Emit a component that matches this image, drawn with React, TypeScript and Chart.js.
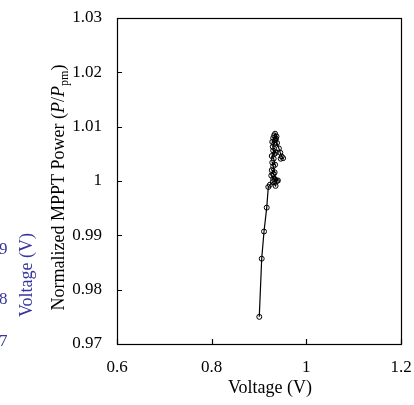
import React, { useEffect, useRef } from "react";
import { Chart, registerables } from "chart.js";

Chart.register(...registerables);

const voltage = [
  0.9006, 0.9057, 0.9106, 0.9163, 0.9197, 0.923, 0.929, 0.935, 0.938, 0.93,
  0.926, 0.934, 0.94, 0.931, 0.927, 0.933, 0.93, 0.928, 0.934, 0.931,
  0.927, 0.933, 0.93, 0.935, 0.929, 0.932, 0.928, 0.934, 0.93, 0.936,
  0.932, 0.934, 0.937, 0.938, 0.942, 0.945, 0.948, 0.951, 0.946,
];
const power = [
  0.975, 0.9857, 0.9907, 0.9951, 0.9989, 0.9993, 0.9998, 0.9991, 1.0, 1.0004,
  1.001, 1.0003, 1.0001, 1.0013, 1.002, 1.0016, 1.0027, 1.0034, 1.003, 1.0041,
  1.0046, 1.005, 1.0056, 1.0052, 1.0063, 1.0068, 1.0072, 1.0075, 1.0079, 1.0078,
  1.0084, 1.0087, 1.0082, 1.007, 1.006, 1.0052, 1.0045, 1.0042, 1.0041,
];
const xTicks = [0.6, 0.8, 1, 1.2];
const yTicks = [0.97, 0.98, 0.99, 1, 1.01, 1.02, 1.03];
const ghostTickLabels = ["9", "8", "7"];

const FONT = "'Liberation Serif', 'Times New Roman', serif";
const fmt = (v: number) => String(+Number(v).toFixed(2));

const decorPlugin = {
  id: "decor",
  afterDraw(chart: any) {
    const ctx = chart.ctx as CanvasRenderingContext2D;
    const { left, right, top, bottom } = chart.chartArea;
    const xs = chart.scales.x;
    const ys = chart.scales.y;
    ctx.save();
    ctx.strokeStyle = "#000";
    ctx.lineWidth = 1.2;
    ctx.strokeRect(Math.round(left) + 0.5, Math.round(top) + 0.5, Math.round(right - left), Math.round(bottom - top));
    ctx.beginPath();
    yTicks.forEach((v) => {
      const p = Math.round(ys.getPixelForValue(v)) + 0.5;
      ctx.moveTo(left, p);
      ctx.lineTo(left + 5, p);
    });
    xTicks.forEach((v) => {
      const p = Math.round(xs.getPixelForValue(v)) + 0.5;
      ctx.moveTo(p, bottom);
      ctx.lineTo(p, bottom - 5);
    });
    ctx.stroke();

    // tick labels
    ctx.fillStyle = "#000";
    ctx.font = `17px ${FONT}`;
    ctx.textAlign = "right";
    ctx.textBaseline = "middle";
    yTicks.forEach((v) => ctx.fillText(fmt(v), left - 15, ys.getPixelForValue(v)));
    ctx.textAlign = "center";
    ctx.textBaseline = "alphabetic";
    xTicks.forEach((v) => ctx.fillText(fmt(v), xs.getPixelForValue(v), bottom + 28));

    // x title
    ctx.font = `18px ${FONT}`;
    ctx.fillText("Voltage (V)", 270, 393);

    // y title with italic and subscript
    const segs = [
      { t: "Normalized MPPT Power (", f: `18px ${FONT}`, dy: 0 },
      { t: "P", f: `italic 18px ${FONT}`, dy: 0 },
      { t: "/", f: `18px ${FONT}`, dy: 0 },
      { t: "P", f: `italic 18px ${FONT}`, dy: 0 },
      { t: "pm", f: `12px ${FONT}`, dy: 4 },
      { t: ")", f: `18px ${FONT}`, dy: 0 },
    ];
    let total = 0;
    segs.forEach((s) => {
      ctx.font = s.f;
      total += ctx.measureText(s.t).width;
    });
    ctx.save();
    ctx.translate(64, 187.5);
    ctx.rotate(-Math.PI / 2);
    ctx.textAlign = "left";
    let x = -total / 2;
    segs.forEach((s) => {
      ctx.font = s.f;
      ctx.fillText(s.t, x, s.dy);
      x += ctx.measureText(s.t).width;
    });
    ctx.restore();

    // partially visible neighbouring axis (blue)
    ctx.fillStyle = "#3535a0";
    ctx.font = `17px ${FONT}`;
    ctx.textAlign = "right";
    ctx.textBaseline = "middle";
    const ghostY = [250, 300, 342];
    ghostTickLabels.forEach((t, i) => ctx.fillText(t, 7.5, ghostY[i]));
    ctx.save();
    ctx.translate(32, 275);
    ctx.rotate(-Math.PI / 2);
    ctx.font = `18px ${FONT}`;
    ctx.textAlign = "center";
    ctx.textBaseline = "alphabetic";
    ctx.fillText("Voltage (V)", 0, 0);
    ctx.restore();
    ctx.restore();
  },
};

export default function App() {
  const ref = useRef<HTMLCanvasElement>(null);
  useEffect(() => {
    if (!ref.current) return;
    const chart = new Chart(ref.current, {
      type: "scatter",
      data: {
        datasets: [
          {
            data: voltage.map((v, i) => ({ x: v, y: power[i] })),
            showLine: true,
            borderColor: "#000",
            borderWidth: 1.2,
            pointRadius: 2.5,
            pointBorderWidth: 1,
            pointBorderColor: "#000",
            pointBackgroundColor: "rgba(255,255,255,0)",
          },
        ],
      },
      options: {
        responsive: false,
        animation: false,
        devicePixelRatio: 1,
        layout: { padding: { left: 117, right: 13, top: 18, bottom: 61 } },
        plugins: { legend: { display: false }, tooltip: { enabled: false } },
        scales: {
          x: {
            type: "linear",
            min: 0.6,
            max: 1.2,
            grid: { display: false },
            border: { display: false },
            ticks: { display: false },
            afterBuildTicks: (s: any) => {
              s.ticks = xTicks.map((v) => ({ value: v }));
            },
            afterFit: (s: any) => {
              s.height = 0;
            },
          },
          y: {
            type: "linear",
            min: 0.97,
            max: 1.03,
            grid: { display: false },
            border: { display: false },
            ticks: { display: false },
            afterBuildTicks: (s: any) => {
              s.ticks = yTicks.map((v) => ({ value: v }));
            },
            afterFit: (s: any) => {
              s.width = 0;
            },
          },
        },
      },
      plugins: [decorPlugin],
    } as any);
    return () => chart.destroy();
  }, []);
  return (
    <div style={{ position: "fixed", left: 0, top: 0, width: 414, height: 405, background: "#fff" }}>
      <canvas ref={ref} width={414} height={405} />
    </div>
  );
}
